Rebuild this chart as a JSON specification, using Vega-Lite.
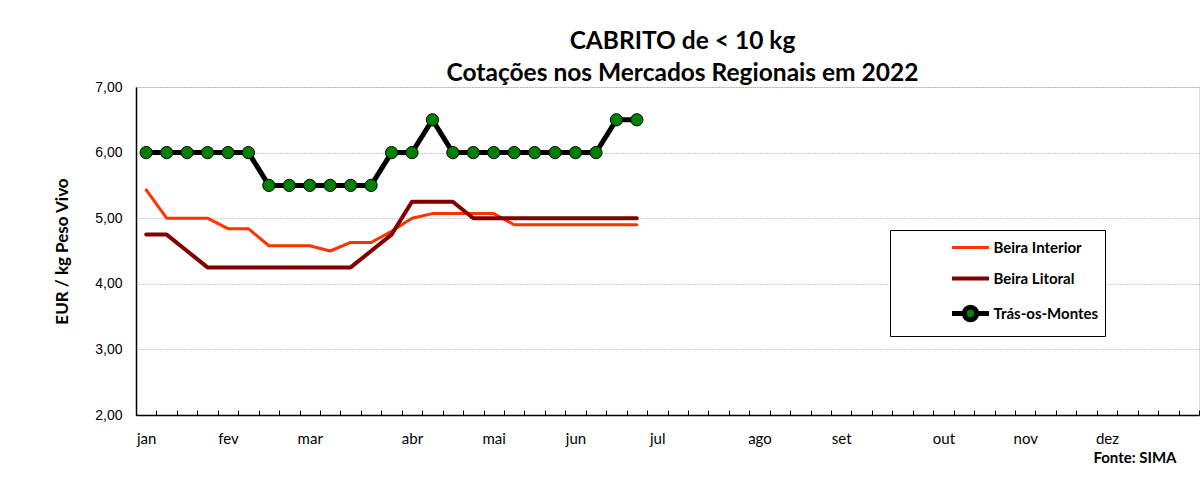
{
  "$schema": "https://vega.github.io/schema/vega-lite/v6.json",
  "width": 1063,
  "height": 328,
  "autosize": {"type": "none"},
  "padding": {"left": 136, "top": 87, "right": 2, "bottom": 64},
  "background": "white",
  "title": {
    "text": ["CABRITO de < 10 kg", "Cotações nos Mercados Regionais em 2022"],
    "font": "Lato", "fontSize": 24.5, "fontWeight": "bold", "color": "black",
    "anchor": "middle", "dx": 15, "lineHeight": 32, "offset": -6
  },
  "data": {"values": [
    {"series": "Beira Interior", "week": 1, "value": 5.43},
    {"series": "Beira Interior", "week": 2, "value": 5.0},
    {"series": "Beira Interior", "week": 3, "value": 5.0},
    {"series": "Beira Interior", "week": 4, "value": 5.0},
    {"series": "Beira Interior", "week": 5, "value": 4.84},
    {"series": "Beira Interior", "week": 6, "value": 4.84},
    {"series": "Beira Interior", "week": 7, "value": 4.58},
    {"series": "Beira Interior", "week": 8, "value": 4.58},
    {"series": "Beira Interior", "week": 9, "value": 4.58},
    {"series": "Beira Interior", "week": 10, "value": 4.5},
    {"series": "Beira Interior", "week": 11, "value": 4.63},
    {"series": "Beira Interior", "week": 12, "value": 4.63},
    {"series": "Beira Interior", "week": 13, "value": 4.8},
    {"series": "Beira Interior", "week": 14, "value": 5.0},
    {"series": "Beira Interior", "week": 15, "value": 5.07},
    {"series": "Beira Interior", "week": 16, "value": 5.07},
    {"series": "Beira Interior", "week": 17, "value": 5.07},
    {"series": "Beira Interior", "week": 18, "value": 5.07},
    {"series": "Beira Interior", "week": 19, "value": 4.9},
    {"series": "Beira Interior", "week": 20, "value": 4.9},
    {"series": "Beira Interior", "week": 21, "value": 4.9},
    {"series": "Beira Interior", "week": 22, "value": 4.9},
    {"series": "Beira Interior", "week": 23, "value": 4.9},
    {"series": "Beira Interior", "week": 24, "value": 4.9},
    {"series": "Beira Interior", "week": 25, "value": 4.9},
    {"series": "Beira Litoral", "week": 1, "value": 4.75},
    {"series": "Beira Litoral", "week": 2, "value": 4.75},
    {"series": "Beira Litoral", "week": 3, "value": 4.5},
    {"series": "Beira Litoral", "week": 4, "value": 4.25},
    {"series": "Beira Litoral", "week": 5, "value": 4.25},
    {"series": "Beira Litoral", "week": 6, "value": 4.25},
    {"series": "Beira Litoral", "week": 7, "value": 4.25},
    {"series": "Beira Litoral", "week": 8, "value": 4.25},
    {"series": "Beira Litoral", "week": 9, "value": 4.25},
    {"series": "Beira Litoral", "week": 10, "value": 4.25},
    {"series": "Beira Litoral", "week": 11, "value": 4.25},
    {"series": "Beira Litoral", "week": 12, "value": 4.5},
    {"series": "Beira Litoral", "week": 13, "value": 4.75},
    {"series": "Beira Litoral", "week": 14, "value": 5.25},
    {"series": "Beira Litoral", "week": 15, "value": 5.25},
    {"series": "Beira Litoral", "week": 16, "value": 5.25},
    {"series": "Beira Litoral", "week": 17, "value": 5.0},
    {"series": "Beira Litoral", "week": 18, "value": 5.0},
    {"series": "Beira Litoral", "week": 19, "value": 5.0},
    {"series": "Beira Litoral", "week": 20, "value": 5.0},
    {"series": "Beira Litoral", "week": 21, "value": 5.0},
    {"series": "Beira Litoral", "week": 22, "value": 5.0},
    {"series": "Beira Litoral", "week": 23, "value": 5.0},
    {"series": "Beira Litoral", "week": 24, "value": 5.0},
    {"series": "Beira Litoral", "week": 25, "value": 5.0},
    {"series": "Trás-os-Montes", "week": 1, "value": 6.0},
    {"series": "Trás-os-Montes", "week": 2, "value": 6.0},
    {"series": "Trás-os-Montes", "week": 3, "value": 6.0},
    {"series": "Trás-os-Montes", "week": 4, "value": 6.0},
    {"series": "Trás-os-Montes", "week": 5, "value": 6.0},
    {"series": "Trás-os-Montes", "week": 6, "value": 6.0},
    {"series": "Trás-os-Montes", "week": 7, "value": 5.5},
    {"series": "Trás-os-Montes", "week": 8, "value": 5.5},
    {"series": "Trás-os-Montes", "week": 9, "value": 5.5},
    {"series": "Trás-os-Montes", "week": 10, "value": 5.5},
    {"series": "Trás-os-Montes", "week": 11, "value": 5.5},
    {"series": "Trás-os-Montes", "week": 12, "value": 5.5},
    {"series": "Trás-os-Montes", "week": 13, "value": 6.0},
    {"series": "Trás-os-Montes", "week": 14, "value": 6.0},
    {"series": "Trás-os-Montes", "week": 15, "value": 6.5},
    {"series": "Trás-os-Montes", "week": 16, "value": 6.0},
    {"series": "Trás-os-Montes", "week": 17, "value": 6.0},
    {"series": "Trás-os-Montes", "week": 18, "value": 6.0},
    {"series": "Trás-os-Montes", "week": 19, "value": 6.0},
    {"series": "Trás-os-Montes", "week": 20, "value": 6.0},
    {"series": "Trás-os-Montes", "week": 21, "value": 6.0},
    {"series": "Trás-os-Montes", "week": 22, "value": 6.0},
    {"series": "Trás-os-Montes", "week": 23, "value": 6.0},
    {"series": "Trás-os-Montes", "week": 24, "value": 6.5},
    {"series": "Trás-os-Montes", "week": 25, "value": 6.5}
  ]},
  "encoding": {
    "x": {
      "field": "week", "type": "quantitative",
      "scale": {"domain": [0.5, 52.5], "nice": false, "zero": false},
      "axis": {
        "values": [0.5,1.5,2.5,3.5,4.5,5.5,6.5,7.5,8.5,9.5,10.5,11.5,12.5,13.5,14.5,15.5,16.5,17.5,18.5,19.5,20.5,21.5,22.5,23.5,24.5,25.5,26.5,27.5,28.5,29.5,30.5,31.5,32.5,33.5,34.5,35.5,36.5,37.5,38.5,39.5,40.5,41.5,42.5,43.5,44.5,45.5,46.5,47.5,48.5,49.5,50.5,51.5,52.5],
        "labelExpr": "datum.value == 0.5 ? 'jan' : datum.value == 4.5 ? 'fev' : datum.value == 8.5 ? 'mar' : datum.value == 13.5 ? 'abr' : datum.value == 17.5 ? 'mai' : datum.value == 21.5 ? 'jun' : datum.value == 25.5 ? 'jul' : datum.value == 30.5 ? 'ago' : datum.value == 34.5 ? 'set' : datum.value == 39.5 ? 'out' : datum.value == 43.5 ? 'nov' : datum.value == 47.5 ? 'dez' : ''",
        "labelOffset": 10.2, "labelAlign": "center", "labelOverlap": false, "labelFlush": false,
        "labelBaseline": "alphabetic",
        "labelFont": "Lato", "labelFontSize": 15, "labelColor": "black", "labelPadding": 33,
        "tickSize": -5, "tickColor": "black", "tickWidth": 1,
        "domainColor": "black", "domainWidth": 1.5, "grid": false,
        "title": "Fonte: SIMA", "titleX": 1040, "titleY": 47, "titleAlign": "right",
        "titleBaseline": "alphabetic", "titleFont": "Lato", "titleFontSize": 15,
        "titleFontWeight": "bold", "titleColor": "black"
      }
    },
    "y": {
      "field": "value", "type": "quantitative",
      "scale": {"domain": [2, 7], "nice": false, "zero": false},
      "axis": {
        "values": [2, 3, 4, 5, 6, 7],
        "labelExpr": "replace(format(datum.value, '.2f'), '.', ',')",
        "labelFont": "Liberation Sans", "labelFontSize": 14, "labelColor": "black",
        "labelPadding": 14, "ticks": false,
        "domainColor": "black", "domainWidth": 1.5,
        "grid": true, "gridColor": "#9a9a9a", "gridDash": [1, 2], "gridWidth": 1,
        "title": "EUR / kg Peso Vivo", "titleFont": "Lato", "titleFontSize": 17,
        "titleFontWeight": "bold", "titleColor": "black",
        "titleX": -74, "titleY": 164, "titleAngle": -90, "titleBaseline": "middle", "titleAlign": "center"
      }
    }
  },
  "layer": [
    {
      "mark": {"type": "line", "strokeCap": "round", "strokeJoin": "round"},
      "encoding": {
        "color": {
          "field": "series", "type": "nominal",
          "scale": {"domain": ["Beira Interior", "Beira Litoral", "Trás-os-Montes"], "range": ["#FF3300", "#800000", "#000000"]},
          "legend": {
            "orient": "none", "legendX": 754, "legendY": 143, "title": null,
            "strokeColor": "black", "fillColor": "white", "padding": 6,
            "symbolSize": 400, "symbolOffset": 62, "labelOffset": 10.5, "rowPadding": 10.5,
            "labelFont": "Lato", "labelFontSize": 15, "labelFontWeight": "bold", "labelColor": "black",
            "encode": {
              "symbols": {
                "update": {
                  "shape": {"signal": "datum.value === 'Trás-os-Montes' ? 'M-1.85,0L-0.62,0M0.62,0L1.85,0M0.62,0A0.62,0.62,0,1,1,-0.62,0A0.62,0.62,0,1,1,0.62,0' : 'M-1.85,0L1.85,0'"},
                  "fill": {"signal": "datum.value === 'Trás-os-Montes' ? '#008000' : 'transparent'"},
                  "strokeWidth": {"signal": "datum.value === 'Beira Litoral' ? 5 : datum.value === 'Trás-os-Montes' ? 2.5 : 3"},
                  "opacity": {"value": 1}
                }
              }
            }
          }
        },
        "strokeWidth": {
          "field": "series", "type": "ordinal",
          "scale": {"domain": ["Beira Interior", "Beira Litoral", "Trás-os-Montes"], "range": [3, 5, 3.5]},
          "legend": null
        }
      }
    },
    {
      "transform": [{"filter": "datum.series === 'Trás-os-Montes'"}],
      "mark": {"type": "point", "filled": true, "fill": "#008000", "stroke": "black", "strokeWidth": 1, "size": 150, "opacity": 1}
    }
  ]
}
